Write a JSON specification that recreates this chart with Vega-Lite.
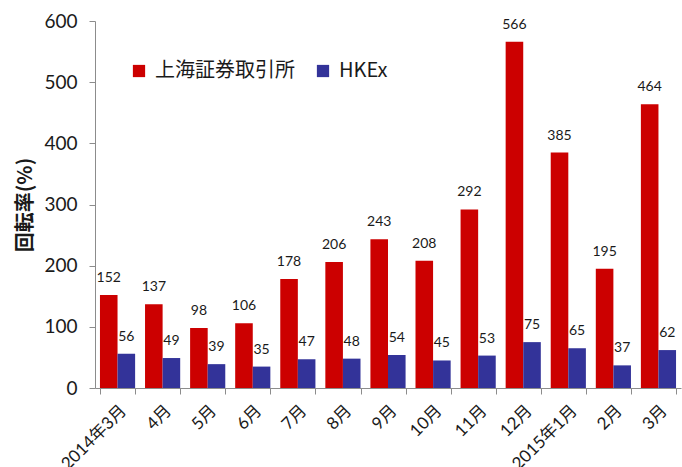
{
  "$schema": "https://vega.github.io/schema/vega-lite/v6.json",
  "autosize": {"type": "none"},
  "padding": {"left": 95, "top": 21, "right": 1, "bottom": 79},
  "width": 586,
  "height": 367,
  "background": "white",
  "config": {
    "view": {"stroke": null},
    "font": "Lato, Noto Sans CJK JP",
    "axis": {"domainColor": "#8c8c8c", "tickColor": "#8c8c8c", "grid": false, "labelColor": "#1a1a1a", "titleColor": "#1a1a1a", "labelFont": "Lato, Noto Sans CJK JP", "titleFont": "Noto Sans CJK JP"}
  },
  "data": {
    "values": [
      {"month": "2014年3月", "series": "上海証券取引所", "value": 152},
      {"month": "2014年3月", "series": "HKEx", "value": 56},
      {"month": "4月", "series": "上海証券取引所", "value": 137},
      {"month": "4月", "series": "HKEx", "value": 49},
      {"month": "5月", "series": "上海証券取引所", "value": 98},
      {"month": "5月", "series": "HKEx", "value": 39},
      {"month": "6月", "series": "上海証券取引所", "value": 106},
      {"month": "6月", "series": "HKEx", "value": 35},
      {"month": "7月", "series": "上海証券取引所", "value": 178},
      {"month": "7月", "series": "HKEx", "value": 47},
      {"month": "8月", "series": "上海証券取引所", "value": 206},
      {"month": "8月", "series": "HKEx", "value": 48},
      {"month": "9月", "series": "上海証券取引所", "value": 243},
      {"month": "9月", "series": "HKEx", "value": 54},
      {"month": "10月", "series": "上海証券取引所", "value": 208},
      {"month": "10月", "series": "HKEx", "value": 45},
      {"month": "11月", "series": "上海証券取引所", "value": 292},
      {"month": "11月", "series": "HKEx", "value": 53},
      {"month": "12月", "series": "上海証券取引所", "value": 566},
      {"month": "12月", "series": "HKEx", "value": 75},
      {"month": "2015年1月", "series": "上海証券取引所", "value": 385},
      {"month": "2015年1月", "series": "HKEx", "value": 65},
      {"month": "2月", "series": "上海証券取引所", "value": 195},
      {"month": "2月", "series": "HKEx", "value": 37},
      {"month": "3月", "series": "上海証券取引所", "value": 464},
      {"month": "3月", "series": "HKEx", "value": 62}
    ]
  },
  "encoding": {
    "x": {
      "field": "month", "type": "nominal", "sort": null,
      "scale": {"paddingInner": 0.22, "paddingOuter": 0.11},
      "axis": {"title": null, "labelAngle": -45, "labelFontSize": 17, "tickBand": "extent", "tickSize": 6, "labelPadding": 8, "labelOverlap": false}
    },
    "xOffset": {"field": "series", "type": "nominal", "scale": {"domain": ["上海証券取引所", "HKEx"]}},
    "y": {
      "field": "value", "type": "quantitative",
      "scale": {"domain": [0, 600]},
      "axis": {"title": "回転率(%)", "titleFontSize": 20, "titleFontWeight": "bold", "titlePadding": 8, "labelFontSize": 19, "values": [0, 100, 200, 300, 400, 500, 600], "labelOverlap": false, "tickSize": 6, "labelPadding": 12}
    }
  },
  "layer": [
    {
      "mark": {"type": "bar"},
      "encoding": {
        "color": {
          "field": "series", "type": "nominal",
          "scale": {"domain": ["上海証券取引所", "HKEx"], "range": ["#cc0000", "#333399"]},
          "legend": {"title": null, "orient": "none", "legendX": 34, "legendY": 40, "direction": "horizontal", "symbolType": "square", "symbolSize": 150, "symbolOpacity": 1, "labelFontSize": 20, "labelFont": "Noto Sans CJK JP", "labelColor": "#1a1a1a", "columnPadding": 18, "labelOffset": 6, "padding": 0}
        }
      }
    },
    {
      "mark": {"type": "text", "baseline": "bottom", "dy": -10, "fontSize": 14, "color": "#1a1a1a"},
      "encoding": {"text": {"field": "value", "type": "quantitative"}}
    }
  ]
}
